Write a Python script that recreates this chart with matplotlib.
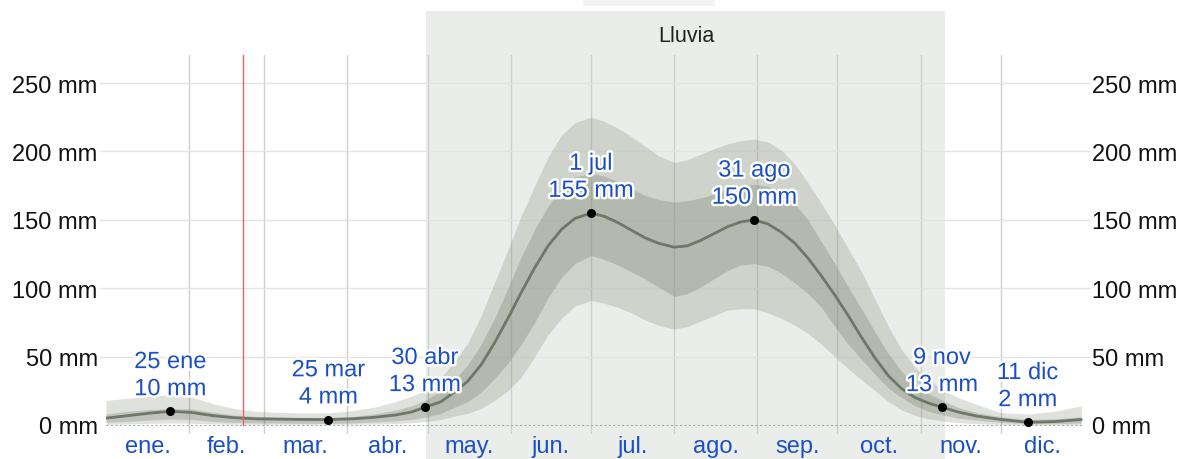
import matplotlib
matplotlib.use("Agg")
import matplotlib.pyplot as plt
import matplotlib.patheffects as pe
from matplotlib.patches import Rectangle
from matplotlib.transforms import blended_transform_factory

plt.rcParams['font.family'] = ['Liberation Sans', 'DejaVu Sans']

# day of year (0 = 1 Jan) and rainfall readings in mm
days = [0, 8, 16, 24, 32, 40, 48, 56, 64, 72,
        83, 92, 100, 108, 114, 119, 125, 130, 135, 140,
        145, 150, 155, 160, 165, 170, 175, 181, 186, 191,
        196, 201, 206, 212, 217, 222, 227, 232, 237, 242,
        247, 252, 257, 262, 267, 272, 277, 282, 287, 292,
        297, 302, 307, 312, 318, 325, 334, 344, 354, 364]
median = [5, 6.8, 8.6, 10, 9.2, 6.8, 5.3, 4.5, 4.3, 4.1,
          4, 4.5, 5.6, 7.3, 9.5, 13, 17, 24, 32, 44,
          60, 78, 97, 115, 131, 143, 151, 155, 152.5, 148,
          142.5, 137, 133, 130, 131, 135, 140, 145, 148.5, 150,
          147, 141, 133, 122, 109, 95, 80, 64, 49, 36,
          26.5, 20, 16, 13, 9.5, 6.5, 4, 2, 2.5, 4]
p25 = [2, 2.7, 3.6, 4.4, 4, 2.6, 1.9, 1.6, 1.5, 1.3,
       1.2, 1.5, 2.2, 3, 4, 5.6, 8.5, 13, 17, 24,
       34, 45, 59, 75, 93, 108, 118, 124, 121, 117,
       112, 107, 101, 94, 96, 101, 107, 113, 117, 118,
       116, 111, 104, 96, 86, 72, 59, 48, 37, 27,
       20, 14, 10, 7.5, 5, 3.5, 2, 1, 1, 1.5]
p75 = [8, 10, 11.3, 12, 11.8, 9.3, 7.3, 6.3, 5.8, 5.5,
       5.4, 6.3, 8, 10.8, 14, 18, 25, 33, 44, 59,
       78, 100, 123, 143, 160, 174, 181, 184, 182, 178,
       173, 168, 165, 163, 164, 166, 169, 172.5, 175, 176,
       174.5, 170, 162, 150, 134, 118, 101, 85, 68, 52,
       39, 29, 23, 18, 13, 9, 6, 4, 4.5, 6]
p10 = [0.5, 0.8, 1.2, 1.5, 1.3, 0.8, 0.6, 0.5, 0.5, 0.5,
       0.5, 0.6, 0.8, 1.1, 1.6, 2.4, 4, 6.5, 8.5, 12,
       18, 25, 35, 50, 66, 78, 87, 91, 89, 86,
       82, 77, 73, 70, 72, 76, 80, 84, 85, 85,
       82, 78, 73, 67, 59, 50, 41, 33, 25, 17,
       11, 7, 4.5, 3, 1.8, 1, 0.5, 0.2, 0.3, 0.3]
p90 = [18, 19.5, 21, 22, 20.5, 15.5, 12, 10, 9.2, 8.9,
       8.8, 10.5, 13, 17, 21, 25, 35, 46, 60, 80,
       104, 128, 153, 175, 196, 212, 221, 225, 222, 217,
       211, 204, 197, 192, 194, 198, 202, 205.5, 208, 209,
       207, 201, 191, 177, 162, 146, 129, 112, 92, 72,
       55, 42, 33, 26, 20, 15, 9, 8, 10, 14]

month_starts = [0, 31, 59, 90, 120, 151, 181, 212, 243, 273, 304, 334, 365]
month_labels = ["ene.", "feb.", "mar.", "abr.", "may.", "jun.", "jul.",
                "ago.", "sep.", "oct.", "nov.", "dic."]

ann_days = [24, 83, 119, 181, 242, 312, 344]
ann_vals = [10, 4, 13, 155, 150, 13, 2]
ann_labels = ["25 ene\n10 mm", "25 mar\n4 mm", "30 abr\n13 mm", "1 jul\n155 mm",
              "31 ago\n150 mm", "9 nov\n13 mm", "11 dic\n2 mm"]

yticks = [0, 50, 100, 150, 200, 250]
today = 51
season = (119.5, 313)

blue = "#1a50c4"
W, H = 1187, 460
fig = plt.figure(figsize=(W / 100, H / 100), dpi=100)
ax = fig.add_axes([106 / W, 25 / H, 978 / W, 379 / H])
ax.set_facecolor("none")
ax.set_xlim(0, 365)
ax.set_ylim(-6.58, 270.5)
for s in ax.spines.values():
    s.set_visible(False)

# rainy season background (behind the axes)
tr = blended_transform_factory(ax.transData, fig.transFigure)
fig.patches.append(Rectangle((season[0], 0), season[1] - season[0], 1 - 12 / H,
                             transform=tr, facecolor="#ebedea", edgecolor="none",
                             zorder=-5))
fig.patches.append(Rectangle((583 / W, 1 - 7 / H), 132 / W, 7 / H,
                             transform=fig.transFigure, facecolor="#f2f2f2",
                             edgecolor="none", zorder=-5))
fig.text(686 / W, 1 - 37 / H, "Lluvia", ha="center", va="center",
         fontsize=15.5, color="#222222")

# grid
for m in month_starts[1:-1]:
    ax.axvline(m, color="#cfcfcf", lw=1, zorder=1)
for y in yticks[1:]:
    ax.axhline(y, xmin=-0.006, xmax=1.006, color="#e4e4e4", lw=1,
               zorder=1, clip_on=False)
ax.axhline(0, color="#aaaaaa", lw=0.8, ls=(0, (2, 2)), zorder=1)

# bands and median
band = "#6e7864"
ax.fill_between(days, p10, p90, color=band, alpha=0.22, lw=0, zorder=2)
ax.fill_between(days, p25, p75, color=band, alpha=0.28, lw=0, zorder=3)
ax.plot(days, median, color="#6d7866", lw=2, zorder=4,
        solid_capstyle="round", solid_joinstyle="round")

ax.plot([today, today], [0, 270.5], color="#f06060", lw=1, zorder=5)

ax.plot(ann_days, ann_vals, "o", color="black", ms=5.5, zorder=6)
halo = [pe.withStroke(linewidth=3.5, foreground="white")]
for d, v, t in zip(ann_days, ann_vals, ann_labels):
    ax.annotate(t, (d, v), xytext=(0, 8), textcoords="offset points",
                ha="center", va="bottom", fontsize=17, color=blue,
                linespacing=1.3, path_effects=halo, zorder=7)

# axes labels
mids = [(a + b) / 2 for a, b in zip(month_starts[:-1], month_starts[1:])]
ax.set_xticks(mids)
ax.set_xticklabels(month_labels, fontsize=17, color=blue)
ax.set_yticks(yticks)
ax.set_yticklabels([f"{v} mm" for v in yticks], fontsize=17, color="#111111")
ax.tick_params(axis="x", length=0, pad=1)
ax.tick_params(axis="y", length=0, pad=6, labelright=True)

fig.savefig("out.png", dpi=100)
